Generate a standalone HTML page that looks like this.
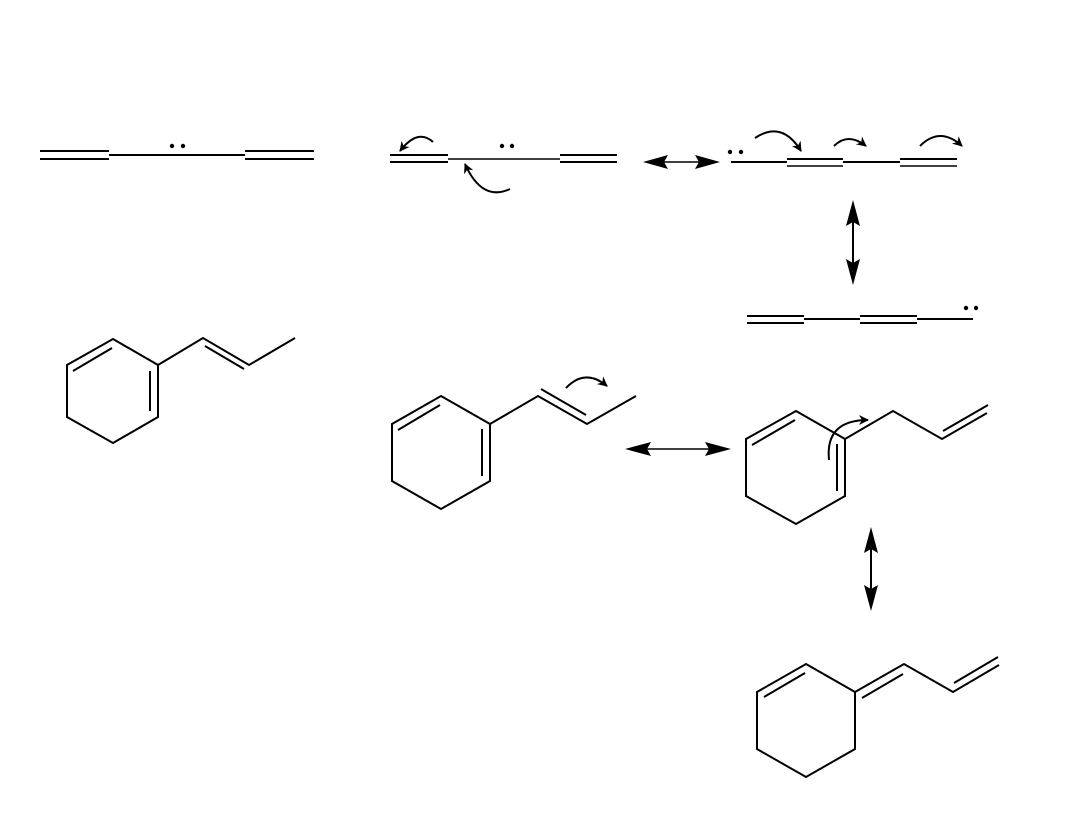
<!DOCTYPE html>
<html><head><style>html,body{margin:0;padding:0;background:#fff}</style></head><body>
<svg width="1080" height="810" viewBox="0 0 1080 810" xmlns="http://www.w3.org/2000/svg">
<defs>
<marker id="ah" viewBox="0 0 10 10" refX="9" refY="5" markerWidth="11" markerHeight="10" orient="auto" markerUnits="userSpaceOnUse">
<path d="M0,0 L10,5 L0,10 L3,5 z" fill="#000"/>
</marker>
</defs>
<g stroke="#000" stroke-width="2" fill="none">
<!-- row1 left -->
<line x1="40" y1="151" x2="109" y2="151"/><line x1="40" y1="159" x2="109" y2="159"/>
<line x1="109" y1="155" x2="245" y2="155"/>
<line x1="245" y1="151" x2="314" y2="151"/><line x1="245" y1="159" x2="314" y2="159"/>
<!-- row1 middle -->
<line x1="390" y1="155" x2="448" y2="155"/><line x1="390" y1="162" x2="448" y2="162"/>
<line x1="448" y1="159" x2="560" y2="159" stroke-width="1.5"/>
<line x1="560" y1="155" x2="617" y2="155"/><line x1="560" y1="162" x2="617" y2="162"/>
<path d="M433,142 Q418,128 400,151" marker-end="url(#ah)"/>
<path d="M510,189 Q482,202 465,164" marker-end="url(#ah)"/>
<!-- row1 right -->
<line x1="731" y1="162" x2="787" y2="162"/>
<line x1="787" y1="159" x2="843" y2="159"/><line x1="787" y1="166" x2="843" y2="166" stroke-width="1.5"/>
<line x1="843" y1="162" x2="900" y2="162"/>
<line x1="900" y1="159" x2="957" y2="159"/><line x1="900" y1="166" x2="957" y2="166" stroke-width="1.5"/>
<path d="M755,138 Q782,120 801,151" marker-end="url(#ah)"/>
<path d="M834,146 Q848,132 866,146" marker-end="url(#ah)"/>
<path d="M920,146 Q940,126 962,146" marker-end="url(#ah)"/>
<!-- row2 chain -->
<line x1="747" y1="316" x2="804" y2="316"/><line x1="747" y1="323" x2="804" y2="323"/>
<line x1="804" y1="319" x2="860" y2="319"/>
<line x1="860" y1="316" x2="917" y2="316"/><line x1="860" y1="323" x2="917" y2="323"/>
<line x1="917" y1="319" x2="973" y2="319"/>
<!-- left molecule -->
<path d="M113,339 L158,365 L158,417 L113,443 L67,417 L67,365 Z"/>
<line x1="73" y1="371" x2="112" y2="348"/><line x1="150" y1="371" x2="150" y2="411"/>
<path d="M158,365 L203,338 L249,365 L295,338"/>
<line x1="205" y1="346" x2="244" y2="369"/>
<!-- middle molecule -->
<path d="M441,396 L490,424 L490,481 L441,509 L392,481 L392,424 Z"/>
<line x1="398" y1="430" x2="440" y2="405"/><line x1="482" y1="429" x2="482" y2="476"/>
<path d="M490,424 L538,396 L587,424 L636,396"/>
<line x1="541" y1="389" x2="586" y2="415"/>
<path d="M566,388 Q585,368 607,386" marker-end="url(#ah)"/>
<!-- right molecule -->
<path d="M796,411 L845,439 L845,496 L796,524 L746,496 L746,439 Z"/>
<line x1="752" y1="445" x2="795" y2="420"/><line x1="837" y1="444" x2="837" y2="491"/>
<path d="M845,439 L893,411 L942,439 L987,413"/>
<line x1="943" y1="431" x2="988" y2="405"/>
<path d="M829,460 Q825,420 868,420" marker-end="url(#ah)"/>
<!-- bottom molecule -->
<path d="M806,664 L855,692 L855,749 L806,777 L757,749 L757,692 Z"/>
<line x1="764" y1="697" x2="805" y2="673"/>
<path d="M855,692 L904,664 L953,692 L999,665"/>
<line x1="862" y1="698" x2="903" y2="674"/>
<line x1="954" y1="683" x2="998" y2="657"/>
<!-- resonance arrows -->
<line x1="650" y1="162" x2="712" y2="162" stroke-width="1.5"/>
<line x1="853" y1="222" x2="853" y2="264" stroke-width="2"/>
<line x1="634" y1="449" x2="722" y2="449" stroke-width="1.5"/>
<line x1="871" y1="548" x2="871" y2="590" stroke-width="2"/>
</g>
<g fill="#000">
<path d="M643,162 L668,155 L664,162 L668,169 Z"/><path d="M720,162 L695,155 L699,162 L695,169 Z"/>
<path d="M853,200 L846,226 L853,222 L860,226 Z"/><path d="M853,285 L846,259 L853,263 L860,259 Z"/>
<path d="M625,449 L651,442 L647,449 L651,456 Z"/><path d="M731,449 L705,442 L709,449 L705,456 Z"/>
<path d="M871,527 L864,553 L871,549 L878,553 Z"/><path d="M871,611 L864,585 L871,589 L878,585 Z"/>
<circle cx="172" cy="146" r="2.2"/><circle cx="183" cy="146" r="2.2"/>
<circle cx="502" cy="146" r="2.2"/><circle cx="512" cy="146" r="2.2"/>
<circle cx="730" cy="152" r="2.2"/><circle cx="741" cy="152" r="2.2"/>
<circle cx="966" cy="308" r="2.2"/><circle cx="976" cy="308" r="2.2"/>
</g>
</svg>
</body></html>
